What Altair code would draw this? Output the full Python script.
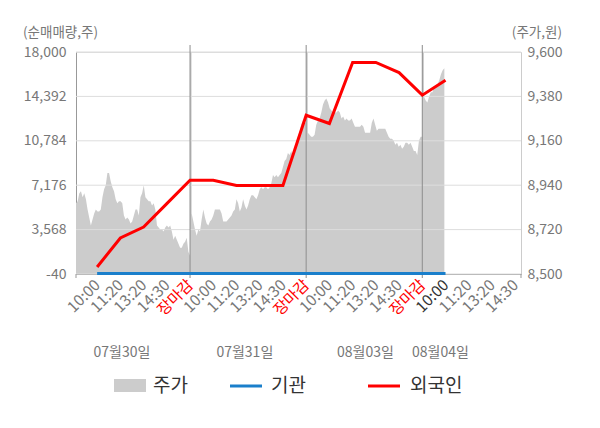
import json
import altair as alt
import numpy as np
import pandas as pd

FONT = "Noto Sans CJK KR"

# ---- price (주가, 원) per session ----
day1 = [8850, 8860, 8900, 8910, 8880, 8900, 8870, 8820, 8780, 8740,
        8770, 8800, 8820, 8810, 8810, 8820, 8880, 8920, 8940, 9000,
        9000, 8960, 8930, 8910, 8870, 8850, 8860, 8860, 8850, 8790,
        8770, 8780, 8770, 8750, 8760, 8790, 8820, 8820, 8790, 8880,
        8900, 8940, 8880, 8870, 8860, 8860, 8840, 8850, 8820, 8740,
        8730, 8720, 8720, 8710, 8730, 8740, 8730, 8740, 8710, 8670,
        8690, 8670, 8650, 8630, 8630, 8650, 8660, 8680, 8610, 8590]
day2 = [8810, 8800, 8760, 8720, 8690, 8720, 8710, 8770, 8820, 8780,
        8750, 8740, 8760, 8770, 8790, 8820, 8820, 8820, 8820, 8800,
        8760, 8760, 8760, 8770, 8780, 8790, 8810, 8820, 8870, 8850,
        8810, 8830, 8870, 8840, 8820, 8840, 8870, 8890, 8890, 8880,
        8870, 8890, 8920, 8930, 8920, 8930, 8930, 8920, 8930, 8950,
        8990, 8980, 8990, 8980, 8990, 9000, 9030, 9060, 9070, 9100,
        9090, 9110, 9080, 9110, 9150, 9180, 9200, 9240, 9260, 9250,
        9250]
day3 = [9260, 9200, 9190, 9180, 9180, 9190, 9240, 9260, 9270, 9300,
        9340, 9360, 9370, 9350, 9320, 9310, 9300, 9300, 9300, 9310,
        9300, 9270, 9280, 9260, 9270, 9260, 9260, 9270, 9250, 9230,
        9230, 9230, 9230, 9240, 9230, 9200, 9200, 9200, 9200, 9250,
        9270, 9240, 9210, 9220, 9220, 9220, 9220, 9220, 9200, 9180,
        9170, 9170, 9160, 9140, 9150, 9130, 9140, 9120, 9130, 9150,
        9150, 9140, 9150, 9130, 9110, 9110, 9090, 9160, 9180, 9180]
day4 = [9380, 9380, 9360, 9350, 9380, 9400, 9400, 9430, 9420, 9440,
        9460, 9490, 9510, 9520]
sessions = [day1, day2, day3, day4]
session_start = [0.09, 5, 10, 15]
session_end = [5, 10, 15, 15.95]

# ---- axis ticks ----
tick_slots = list(range(1, 20))
tick_labels = ["10:00", "11:20", "13:20", "14:30", "장마감"] * 3 + ["10:00", "11:20", "13:20", "14:30"]
left_ticks = [-40, 3568, 7176, 10784, 14392, 18000]
right_ticks = [8500, 8720, 8940, 9160, 9380, 9600]
day_bounds = [5, 10, 15]
edge_ticks = [0.09, 19.25]
date_names = ["07월30일", "07월31일", "08월03일", "08월04일"]
date_pos = [2.07, 7.36, 12.55, 15.78]

# ---- net buying (순매매량, 주) ----
flow_slots = list(range(1, 17))
foreign = [530, 2890, 3780, 5680, 7580, 7580, 7150, 7150, 7150,
           12860, 12190, 17150, 17150, 16330, 14490, 15710]
inst = [0] * 16

W, H = 445, 222

rows = []
for d, vals in enumerate(sessions):
    xs = np.linspace(session_start[d], session_end[d], len(vals))
    for x, v in zip(xs, vals):
        rows.append({"slot": float(x), "price": v})
price_df = pd.DataFrame(rows)
flow_df = pd.DataFrame({"slot": flow_slots + flow_slots,
                        "val": foreign + inst,
                        "who": ["외국인"] * 16 + ["기관"] * 16})

xscale = alt.Scale(domain=[0.09, 19.25], nice=False, zero=False)
lscale = alt.Scale(domain=[-40, 18000], nice=False, zero=False)
rscale = alt.Scale(domain=[8500, 9600], nice=False, zero=False)

label_arr = json.dumps(tick_labels, ensure_ascii=False)

x_axis = alt.Axis(
    values=tick_slots,
    labelExpr=f"{label_arr}[round(datum.value) - 1]",
    labelAngle=315, labelAlign="right", labelBaseline="middle",
    labelFontSize=15.5, labelFont=FONT, labelPadding=8, labelOverlap=False,
    labelColor={"condition": [{"test": "datum.value % 5 === 0", "value": "#ff0000"},
                              {"test": "datum.value === 16", "value": "#333333"}],
                "value": "#777777"},
    ticks=False, grid=False, title=None, domainColor="#999999",
)
left_axis = alt.Axis(values=left_ticks, title=None, grid=False, ticks=False,
                     labelExpr="replace(format(datum.value, ','), '\u2212', '-')",
                     domainColor="#999999", labelColor="#777777", labelFontSize=14,
                     labelFont=FONT, labelPadding=10)
right_axis = alt.Axis(orient="right", values=right_ticks, title=None,
                      labelExpr="format(datum.value, ',')",
                      grid=False, ticks=False, domainColor="#cccccc",
                      labelColor="#777777", labelFontSize=14, labelFont=FONT,
                      labelPadding=6)

area = alt.Chart(price_df).mark_area(color="#cccccc", opacity=1, clip=True).encode(
    x=alt.X("slot:Q", scale=xscale, axis=x_axis),
    y=alt.Y("price:Q", scale=rscale, axis=right_axis),
)

grid = alt.Chart(pd.DataFrame({"v": left_ticks})).mark_rule(color="#dddddd", strokeWidth=1).encode(
    y=alt.Y("v:Q", scale=lscale, axis=left_axis),
    x=alt.value(0), x2=alt.value(W),
)

vlines = alt.Chart(pd.DataFrame({"b": day_bounds})).mark_rule(color="#8c8c8c", strokeWidth=1).encode(
    x=alt.X("b:Q", scale=xscale, axis=x_axis),
    y=alt.value(-7), y2=alt.value(H + 4),
)
eticks = alt.Chart(pd.DataFrame({"b": edge_ticks})).mark_rule(color="#999999", strokeWidth=1).encode(
    x=alt.X("b:Q", scale=xscale, axis=x_axis),
    y=alt.value(H), y2=alt.value(H + 4),
)

lines = alt.Chart(flow_df).mark_line(strokeWidth=3).encode(
    x=alt.X("slot:Q", scale=xscale, axis=x_axis),
    y=alt.Y("val:Q", scale=lscale, axis=left_axis),
    color=alt.Color("who:N", scale=alt.Scale(domain=["기관", "외국인"], range=["#1a7fcb", "#ff0000"]),
                    legend=None),
    order=alt.Order("slot:Q"),
)

dates = alt.Chart(pd.DataFrame({"n": date_names, "p": date_pos})).mark_text(
    fontSize=14, font=FONT, color="#777777").encode(
    x=alt.X("p:Q", scale=xscale, axis=x_axis), y=alt.value(301), text="n:N")


def txt(s, x, y, align="left", size=13.5, color="#777777"):
    return alt.Chart(pd.DataFrame({"t": [s]})).mark_text(
        align=align, baseline="middle", fontSize=size, font=FONT, color=color).encode(
        x=alt.value(x), y=alt.value(y), text="t:N")


title_l = txt("(순매매량,주)", -53, -19)
title_r = txt("(주가,원)", 486, -19, align="right")

leg_names = ["주가", "기관", "외국인"]
leg_rect = alt.Chart(pd.DataFrame({"n": [leg_names[0]]})).mark_rect(color="#cccccc").encode(
    x=alt.value(38), x2=alt.value(70), y=alt.value(327), y2=alt.value(340))
leg_blue = alt.Chart(pd.DataFrame({"n": [leg_names[1]]})).mark_rule(color="#1a7fcb", strokeWidth=3).encode(
    x=alt.value(154), x2=alt.value(186), y=alt.value(334))
leg_red = alt.Chart(pd.DataFrame({"n": [leg_names[2]]})).mark_rule(color="#ff0000", strokeWidth=3).encode(
    x=alt.value(292), x2=alt.value(324), y=alt.value(334))
leg_t1 = txt(leg_names[0], 77, 334, size=19, color="#333333")
leg_t2 = txt(leg_names[1], 195, 334, size=19, color="#333333")
leg_t3 = txt(leg_names[2], 334, 334, size=19, color="#333333")

inner = alt.layer(grid, vlines, eticks, lines, dates, title_l, title_r,
                  leg_rect, leg_blue, leg_red, leg_t1, leg_t2, leg_t3)

chart = alt.layer(area, inner).resolve_scale(y="independent").properties(
    width=W, height=H,
    autosize="none",
    padding={"left": 68, "top": 44, "right": 71, "bottom": 146},
).configure_view(fill="#f4f4f4", stroke=None).configure(font=FONT)

chart.save("out.html", embed_options={"renderer": "svg", "actions": False})
